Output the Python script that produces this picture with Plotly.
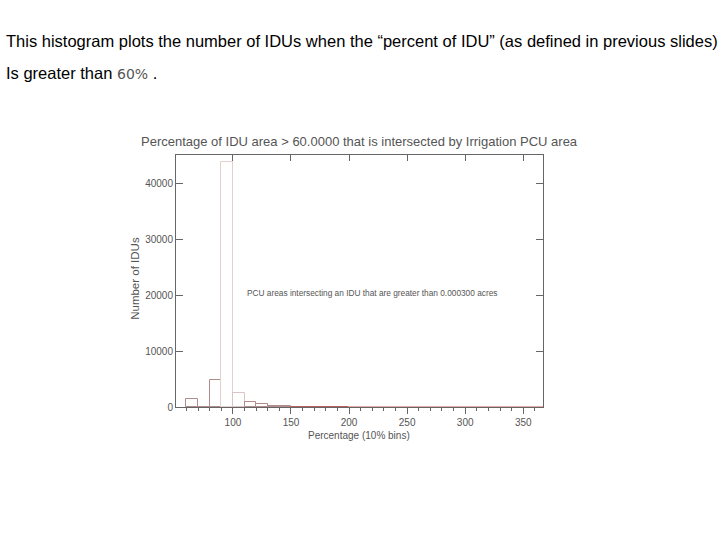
import plotly.graph_objects as go

# ---- data ----
bin_left = [60, 70, 80, 90, 100, 110, 120, 130, 140, 150, 160, 170, 180, 190,
            200, 210, 220, 230, 240, 250, 260, 270, 280, 290, 300, 310, 320,
            330, 340, 350, 360]
counts = [1450, 0, 4800, 43800, 2550, 930, 450, 220, 120, 90, 80, 70, 60, 50,
          30, 25, 22, 20, 18, 15, 12, 10, 10, 8, 8, 6, 6, 5, 5, 4, 4]
x_ticks = [100, 150, 200, 250, 300, 350]
y_ticks = [0, 10000, 20000, 30000, 40000]

title_text = "Percentage of IDU area > 60.0000 that is intersected by Irrigation PCU area"
note_text = "PCU areas intersecting an IDU that are greater than 0.000300 acres"
x_title = "Percentage (10% bins)"
y_title = "Number of IDUs"
slide_line1 = "This histogram plots the number of IDUs when the \u201cpercent of IDU\u201d (as defined in previous slides)"
slide_line2 = "Is greater than <span style='font-family:DejaVu Sans;font-size:14px;color:#555'>60%</span> ."

# ---- styling ----
W, H = 720, 540
L, T = 176, 155
pw, ph = 367.5, 252.5
R, B = W - L - pw, H - T - ph
AX = "#666666"
TXT = "#555555"
FONT = "Liberation Sans"


def px_x(p):
    return (p - L) / pw


def px_y(p):
    return (H - B - p) / ph


edge_colors = []
for i, c in enumerate(counts):
    if c > 20000:
        edge_colors.append("#e4cfcf")
    elif bin_left[i] == 100:
        edge_colors.append("#dcc4c4")
    elif bin_left[i] < 150:
        edge_colors.append("#b08c8c")
    elif bin_left[i] < 200:
        edge_colors.append("#b86060")
    else:
        edge_colors.append("#e2aaaa")

centers = [b + 5 for b in bin_left]

fig = go.Figure()
fig.add_trace(go.Bar(
    x=centers, y=counts, width=10,
    marker=dict(color="rgba(0,0,0,0)", line=dict(color=edge_colors, width=1)),
    showlegend=False, hoverinfo="skip",
))
# invisible trace that drives the mirrored (top / right) tick axes
fig.add_trace(go.Scatter(x=[centers[0]], y=[0], xaxis="x2", yaxis="y2", mode="markers",
                         marker=dict(opacity=0), showlegend=False, hoverinfo="skip"))

fig.update_layout(
    width=W, height=H,
    margin=dict(l=L, r=R, t=T, b=B, pad=0),
    paper_bgcolor="white", plot_bgcolor="white",
    font=dict(family=FONT, color=TXT, size=10),
    bargap=0,
    xaxis=dict(range=[51, 367], tickmode="array", tickvals=x_ticks,
               ticks="outside", ticklen=6, tickcolor=AX, tickwidth=1,
               minor=dict(dtick=10, tick0=0, ticks="outside", ticklen=3, tickcolor=AX),
               showline=True, linecolor=AX, linewidth=1, mirror=True,
               showgrid=False, zeroline=False,
               tickfont=dict(family=FONT, size=10, color=TXT)),
    xaxis2=dict(range=[51, 367], overlaying="x", side="top", anchor="y2", tickmode="array",
                tickvals=x_ticks, ticks="inside", ticklen=6, tickcolor=AX,
                showticklabels=False, showline=False, showgrid=False, zeroline=False),
    yaxis=dict(range=[0, 45000], tickmode="array", tickvals=y_ticks,
               ticktext=[str(v) for v in y_ticks],
               ticks="inside", ticklen=7, tickcolor=AX, tickwidth=1,
               showline=True, linecolor=AX, linewidth=1, mirror=True,
               showgrid=False, zeroline=False,
               tickfont=dict(family=FONT, size=10, color=TXT)),
    yaxis2=dict(range=[0, 45000], overlaying="y", side="right", anchor="x2",
                tickmode="array", tickvals=y_ticks, ticks="inside", ticklen=7,
                tickcolor=AX, showticklabels=False, showline=False,
                showgrid=False, zeroline=False),
)

ann = [
    dict(text=title_text, x=px_x(360), y=px_y(141), xref="paper", yref="paper",
         showarrow=False, font=dict(family=FONT, size=13, color=TXT),
         xanchor="center", yanchor="middle"),
    dict(text=note_text, x=px_x(245), y=px_y(293), xref="paper", yref="paper",
         showarrow=False, font=dict(family=FONT, size=8.3, color=TXT),
         xanchor="left", yanchor="middle"),
    dict(text=x_title, x=px_x(359), y=px_y(436), xref="paper", yref="paper",
         showarrow=False, font=dict(family=FONT, size=10, color=TXT),
         xanchor="center", yanchor="middle"),
    dict(text=y_title, x=px_x(135), y=px_y(279), xref="paper", yref="paper",
         showarrow=False, textangle=-90, font=dict(family=FONT, size=11.5, color=TXT),
         xanchor="center", yanchor="middle"),
    dict(text=slide_line1, x=px_x(4), y=px_y(41), xref="paper", yref="paper",
         showarrow=False, font=dict(family=FONT, size=16.5, color="black"),
         xanchor="left", yanchor="middle"),
    dict(text=slide_line2, x=px_x(4), y=px_y(73), xref="paper", yref="paper",
         showarrow=False, font=dict(family=FONT, size=16.5, color="black"),
         xanchor="left", yanchor="middle"),
]
fig.update_layout(annotations=ann)

fig.write_html("out.html", config={"displayModeBar": False},
               post_script="document.body.style.margin='0';")
